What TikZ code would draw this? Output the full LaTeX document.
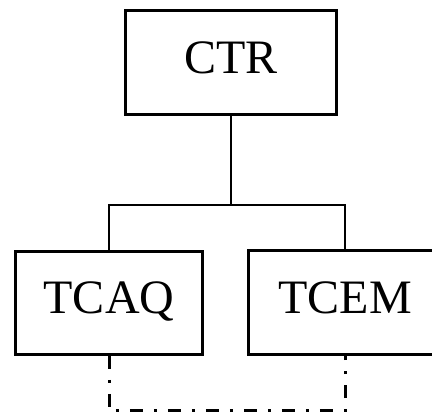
\documentclass[tikz,border=0pt]{standalone}
\usepackage{fontspec}
\setmainfont{Liberation Serif}
\begin{document}
\begin{tikzpicture}[x=1pt,y=1pt,
  unitbox/.style={draw, line width=2.8pt, font=\fontsize{48}{52}\selectfont, inner sep=0pt, text height=32pt, text depth=10pt},
  link/.style={line width=2.2pt},
  dashlink/.style={line width=3pt, dash pattern=on 13pt off 11pt on 3pt off 11pt}]
\clip (0,0) rectangle (432,417);
\node[unitbox, minimum width=211pt, minimum height=104pt] (ctr) at (231,354.5) {CTR};
\node[unitbox, minimum width=187pt, minimum height=103pt] (tcaq) at (109,114) {TCAQ};
\node[unitbox, minimum width=193pt, minimum height=104pt] (tcem) at (345,114.5) {TCEM};
\coordinate (bus) at (231,212);
\coordinate (low) at (0,6);
\draw[link] (ctr.south) -- (bus);
\draw[link] (tcaq.north) |- (bus) -| (tcem.north);
\draw[dashlink] (tcaq.south) -- (tcaq.south |- low) -- (tcem.south |- low) -- (tcem.south);
\end{tikzpicture}
\end{document}
